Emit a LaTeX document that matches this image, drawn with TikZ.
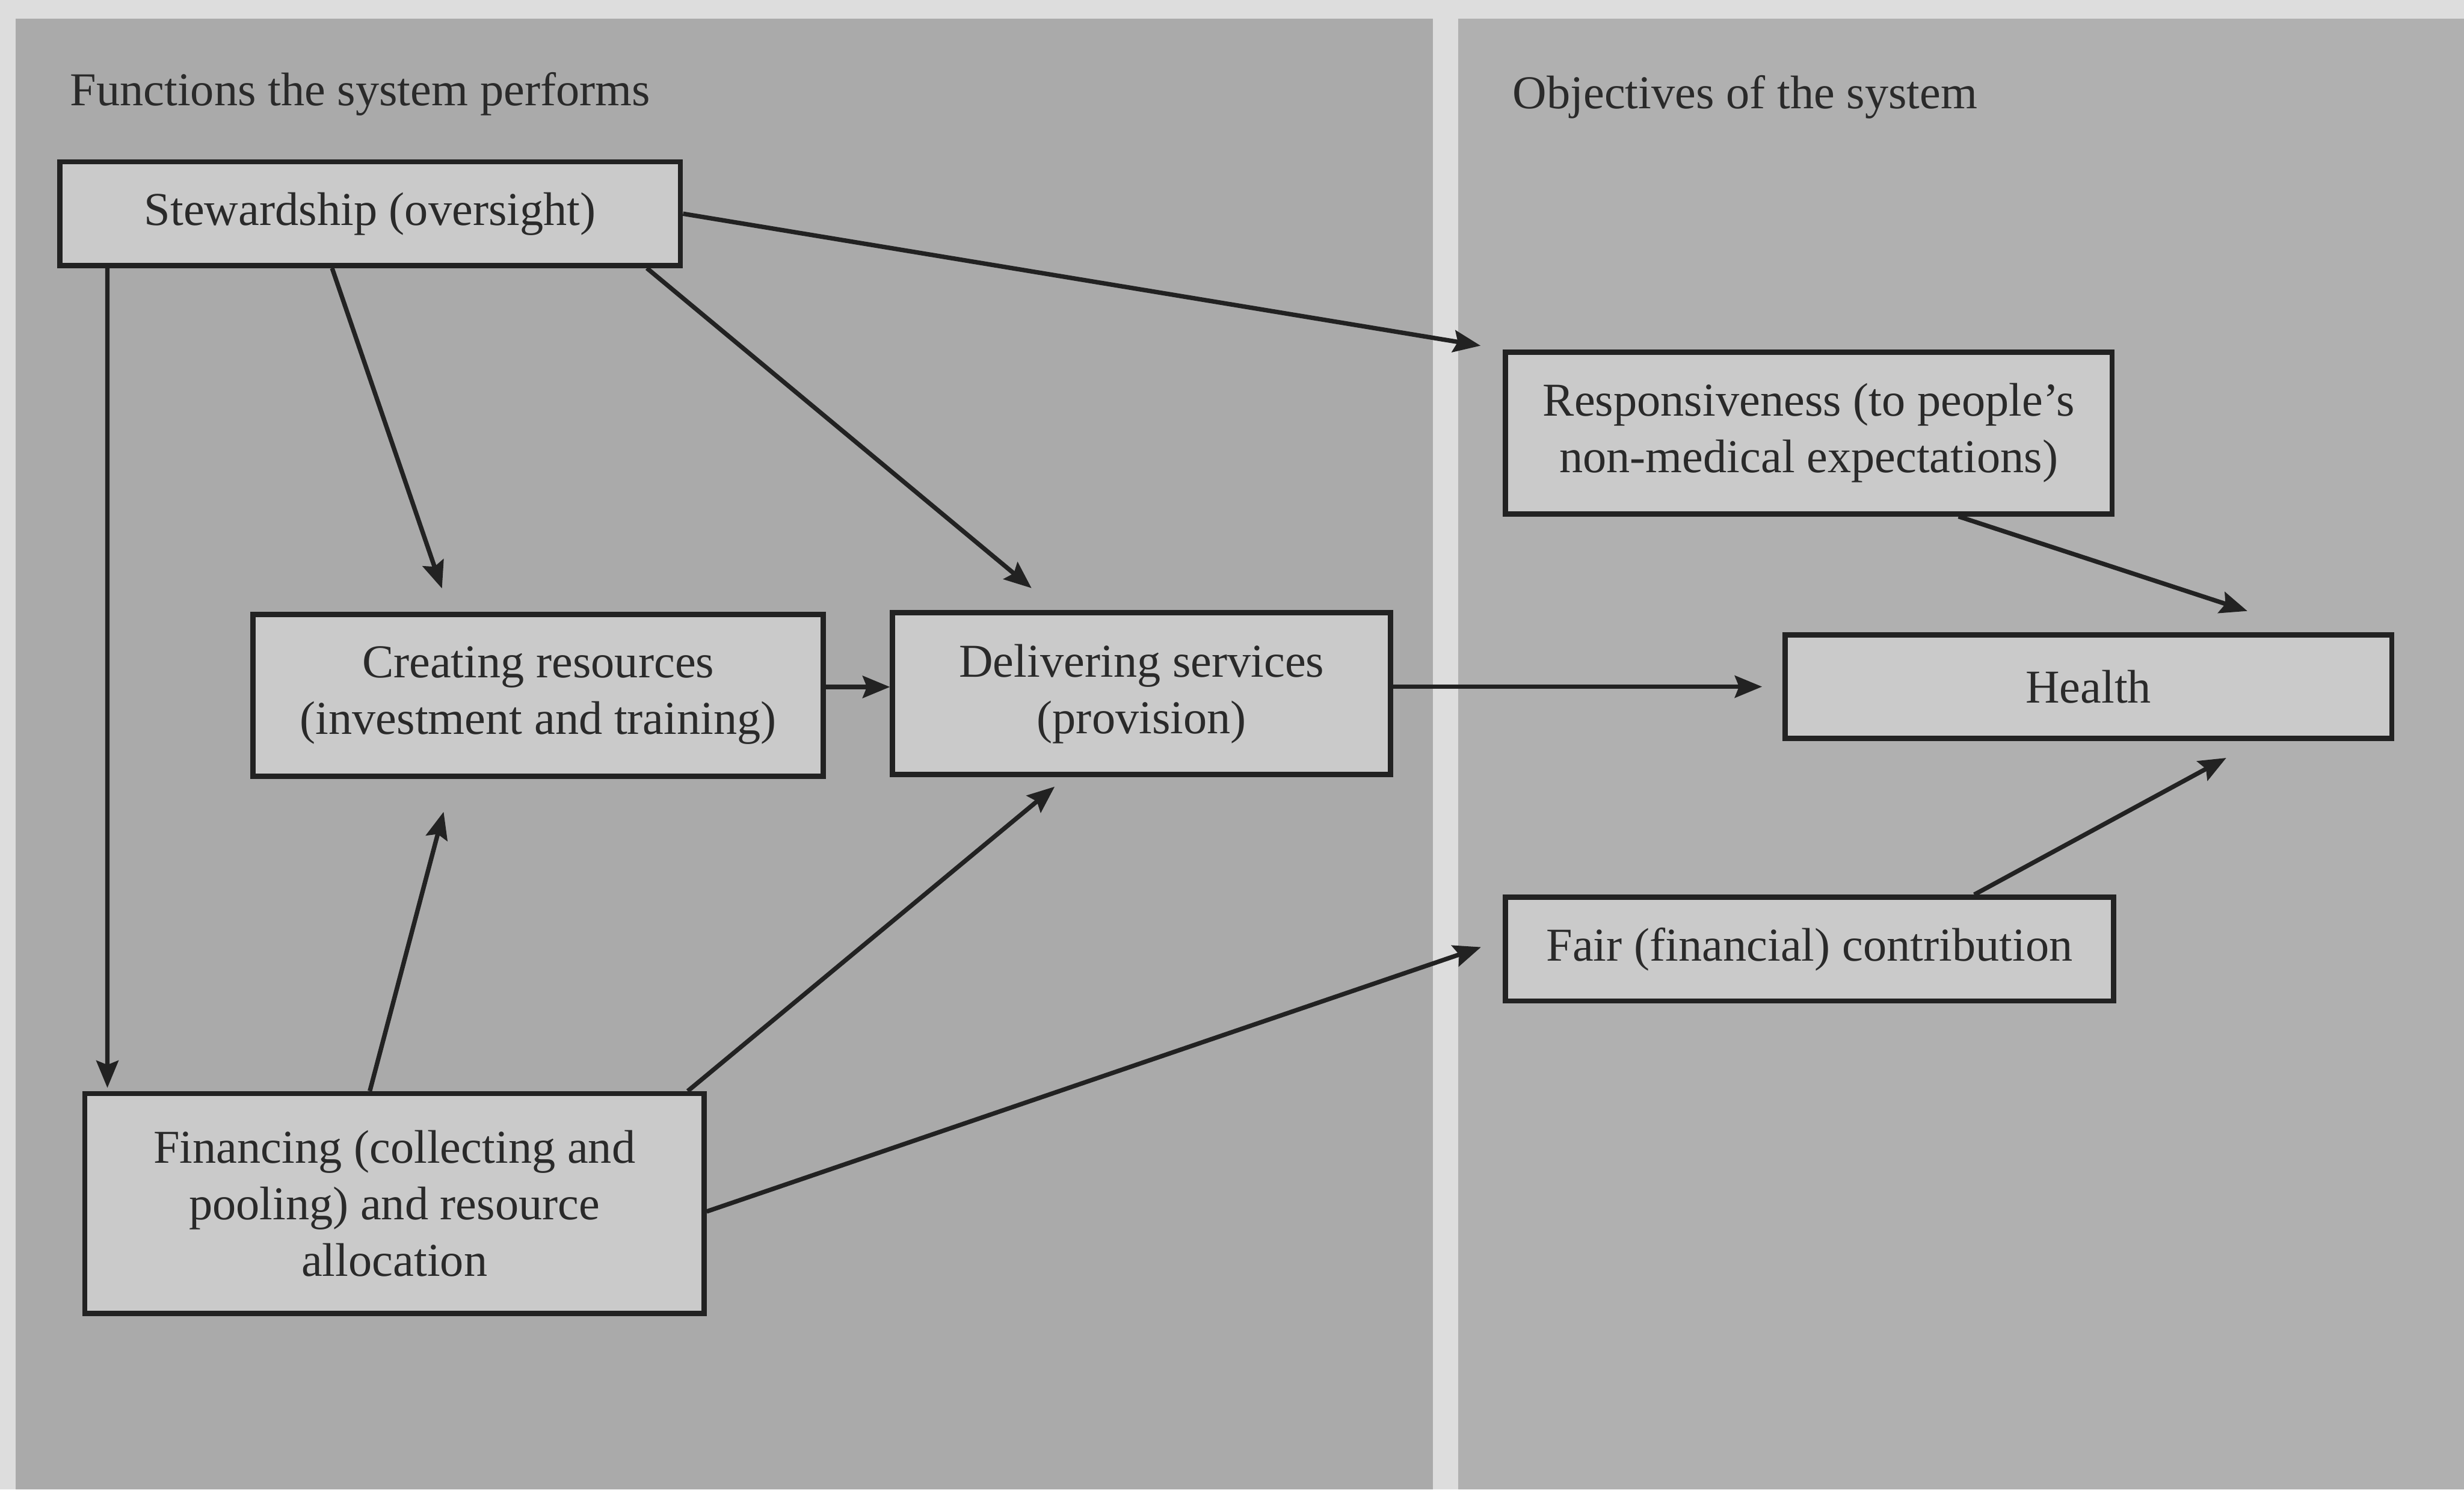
\documentclass[tikz,border=0pt]{standalone}
\usepackage{fontspec}
\setmainfont{Liberation Serif}
\usetikzlibrary{arrows.meta,calc}
\definecolor{outerbg}{HTML}{DDDDDD}
\definecolor{panel}{HTML}{AAAAAA}
\definecolor{panelr}{HTML}{B0B0B0}
\definecolor{boxfill}{HTML}{CACACA}
\definecolor{ink}{HTML}{222222}
\definecolor{txt}{HTML}{2A2A2A}
\tikzset{
  fbox/.style={draw=ink, line width=1.0pt, fill=boxfill, inner sep=0pt, align=center,
    text=txt, font=\fontsize{9}{10.8}\selectfont},
  arr/.style={draw=ink, line width=0.85pt, -{Stealth[length=5.2pt,width=4.2pt,inset=0.8pt]}},
  ttl/.style={anchor=base west, inner sep=0pt, text=txt, font=\fontsize{9}{10.8}\selectfont}
}
\begin{document}
\begin{tikzpicture}[x=0.3pt,y=-0.3pt]
\useasboundingbox (0,0) rectangle (1568,948);
\fill[outerbg] (0,0) rectangle (1568,948);
\fill[panel] (10,12) rectangle (912,948);
\fill[panelr] (928,12) rectangle (1568,948);

\node[ttl] (t1) at (44,67) {Functions the system performs};
\node[ttl] (t2) at (962,69) {Objectives of the system};

\node[fbox, minimum width=118.5pt, minimum height=19.8pt] (stew) at (235.5,136) {Stewardship (oversight)};
\node[fbox, minimum width=108.9pt, minimum height=30.9pt] (create) at (342.5,442.5) {Creating resources\\(investment and training)};
\node[fbox, minimum width=95.1pt, minimum height=30.9pt] (deliver) at (726.5,441.5) {Delivering services\\(provision)};
\node[fbox, minimum width=118.2pt, minimum height=42pt] (fin) at (251,766) {Financing (collecting and\\pooling) and resource\\allocation};
\node[fbox, minimum width=115.8pt, minimum height=30.9pt] (resp) at (1151,275.5) {Responsiveness (to people's\\non-medical expectations)};
\node[fbox, minimum width=115.8pt, minimum height=19.8pt] (health) at (1329,437) {Health};
\node[fbox, minimum width=116.1pt, minimum height=19.8pt] (fair) at (1151.5,604) {Fair (financial) contribution};

% stewardship arrows
\draw[arr, shorten >=0.6pt] ($(stew.south west)+(32,0)$) -- ($(fin.north west)+(16,0)$);
\draw[arr, shorten >=4.7pt] ($(stew.south west)+(175,0)$) -- ($(create.north west)+(127,0)$);
\draw[arr, shorten >=6.6pt] ($(stew.south east)+(-23,0)$) -- ($(deliver.north west)+(107,0)$);
\draw[arr, shorten >=4.3pt] (stew.east) -- (resp.north west);
% creating -> delivering
\draw[arr] ([yshift=1.6pt]create.east) -- ([yshift=1.6pt]create.east -| deliver.west);
% delivering -> health
\draw[arr, shorten >=3.9pt] (deliver.east |- health.west) -- (health.west);
% objectives
\draw[arr, shorten >=13pt] ($(resp.south west)+(290,0)$) -- ($(health.north west)+(337,0)$);
\draw[arr, shorten >=6.7pt] ($(fair.north west)+(300,0)$) -- ($(health.south west)+(302,0)$);
% financing arrows
\draw[arr, shorten >=6.5pt] ($(fin.north west)+(183,0)$) -- ($(create.south west)+(128.5,0)$);
\draw[arr, shorten >=2.8pt] ($(fin.north east)+(-12,0)$) -- ($(deliver.south west)+(112,0)$);
\draw[arr, shorten >=4.4pt] ($(fin.east)+(0,5)$) -- ($(fair.west)+(0,-6)$);
\end{tikzpicture}
\end{document}
